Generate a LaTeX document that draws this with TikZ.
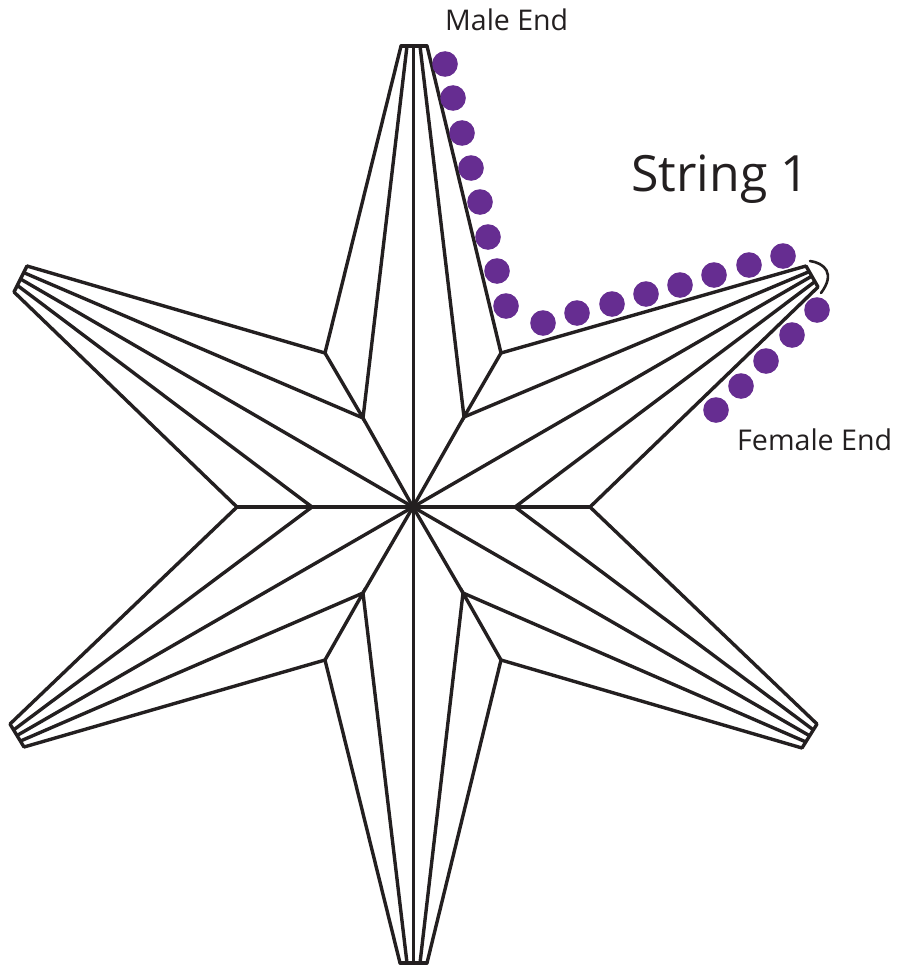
\documentclass[tikz,border=0pt]{standalone}
\usepackage{fontspec}
\setmainfont{Open Sans}
\definecolor{ink}{HTML}{231F20}
\definecolor{bead}{HTML}{662D91}
\tikzset{
  ridge/.style={draw=ink,line width=3.4pt,line cap=butt,line join=miter},
  thin ridge/.style={draw=ink,line width=2.6pt,line cap=round},
  beadstyle/.style={fill=bead,draw=none},
  label/.style={text=ink,inner sep=0pt,anchor=base west}
}
\begin{document}
\begin{tikzpicture}[x=1pt,y=-1pt]
\useasboundingbox (0,0) rectangle (897,966);
\coordinate (C) at (413,507);
% notches
\coordinate (NTR) at (501,353); \coordinate (MTR) at (464,417);
\coordinate (NTL) at (325,353); \coordinate (MTL) at (363,418);
\coordinate (NBR) at (501,660); \coordinate (MBR) at (463,593);
\coordinate (NBL) at (325,660); \coordinate (MBL) at (363,593);
\coordinate (NR) at (590,507); \coordinate (MR) at (515,507);
\coordinate (NL) at (237,507); \coordinate (ML) at (312,507);
% top tip
\coordinate (T1) at (401,46); \coordinate (T2) at (407,46); \coordinate (T3) at (413.5,46); \coordinate (T4) at (420,46); \coordinate (T5) at (427,46);
\coordinate (B1) at (400,963); \coordinate (B2) at (407,963); \coordinate (B3) at (413.5,963); \coordinate (B4) at (420,963); \coordinate (B5) at (427,963);
% upper right tip
\coordinate (UR1) at (806,266); \coordinate (UR2) at (809.5,271.5); \coordinate (UR3) at (812,276); \coordinate (UR4) at (815,281.5); \coordinate (UR5) at (818,287);
% upper left tip
\coordinate (UL1) at (27,266); \coordinate (UL2) at (23.5,272.5); \coordinate (UL3) at (20.5,279); \coordinate (UL4) at (17.5,285.5); \coordinate (UL5) at (14,292);
% lower left tip
\coordinate (LL1) at (10,724); \coordinate (LL2) at (13.5,730); \coordinate (LL3) at (17,735.5); \coordinate (LL4) at (20.5,741); \coordinate (LL5) at (24,747);
% lower right tip
\coordinate (LR1) at (817,724); \coordinate (LR2) at (813.5,730); \coordinate (LR3) at (810,736); \coordinate (LR4) at (806,742); \coordinate (LR5) at (802,748);

% tips
\draw[ridge,line cap=round] (T1) -- (T5);
\draw[ridge,line cap=round] (B1) -- (B5);
\draw[ridge,line cap=round] (UR1) -- (UR5);
\draw[ridge,line cap=round] (UL1) -- (UL5);
\draw[ridge,line cap=round] (LL1) -- (LL5);
\draw[ridge,line cap=round] (LR1) -- (LR5);

% top spike
\draw[ridge] (T1) -- (NTL) -- (MTL) -- (T2);
\draw[ridge] (T3) -- (B3);
\draw[ridge] (T5) -- (NTR) -- (MTR) -- (T4);
% bottom spike
\draw[ridge] (B1) -- (NBL) -- (MBL) -- (B2);
\draw[ridge] (B5) -- (NBR) -- (MBR) -- (B4);
% upper right
\draw[ridge] (NTR) -- (UR1);
\draw[ridge] (MTR) -- (UR2);
\draw[ridge] (C) -- (UR3);
\draw[ridge] (MR) -- (UR4);
\draw[ridge] (NR) -- (UR5);
% upper left
\draw[ridge] (NTL) -- (UL1);
\draw[ridge] (MTL) -- (UL2);
\draw[ridge] (C) -- (UL3);
\draw[ridge] (ML) -- (UL4);
\draw[ridge] (NL) -- (UL5);
% lower left
\draw[ridge] (NL) -- (LL1);
\draw[ridge] (ML) -- (LL2);
\draw[ridge] (C) -- (LL3);
\draw[ridge] (MBL) -- (LL4);
\draw[ridge] (NBL) -- (LL5);
% lower right
\draw[ridge] (NR) -- (LR1);
\draw[ridge] (MR) -- (LR2);
\draw[ridge] (C) -- (LR3);
\draw[ridge] (MBR) -- (LR4);
\draw[ridge] (NBR) -- (LR5);
% centre spokes
\draw[ridge] (NL) -- (NR);
\draw[ridge] (C) -- (MTL);
\draw[ridge] (C) -- (MTR);
\draw[ridge] (C) -- (MBL);
\draw[ridge] (C) -- (MBR);

% clasp arc
\draw[thin ridge] (810,261) .. controls (824,263) and (836,273) .. (821,293);

% beads
\foreach \x/\y in {445/64,453/98,462/133,471/168,480/202,488/237,497/271,506/306,
  543/323,577/313,612/304,646/294,680/285,714/275,749/265,783/256,
  817/310,792/335,766/361,741/386,716/410}
  \fill[beadstyle] (\x,\y) circle (12.8);

% labels
\node[label,font=\fontsize{28.5}{32}\selectfont] (male) at (445,31) {Male End};
\node[label,font=\fontsize{28.6}{32}\selectfont] (female) at (737,450) {Female End};
\node[label,font=\fontsize{50}{58}\selectfont] (string) at (631,191) {String 1};
\end{tikzpicture}
\end{document}
